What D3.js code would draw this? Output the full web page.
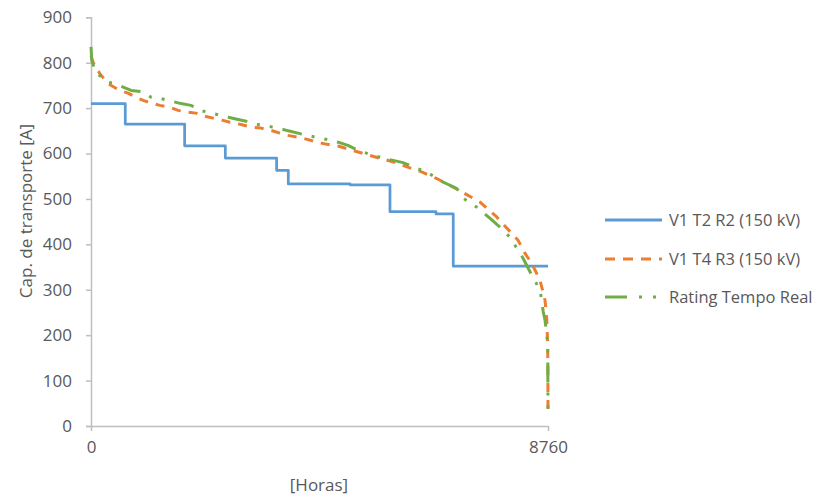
<!DOCTYPE html>
<html>
<head>
<meta charset="utf-8">
<script src="https://cdn.jsdelivr.net/npm/d3@7"></script>
<style>
  html, body { margin: 0; padding: 0; background: #fff; }
  svg text { font-family: "Open Sans", "Liberation Sans", sans-serif; fill: #595959; }
</style>
</head>
<body>
<svg id="chart" width="820" height="497"></svg>
<script>
// ---- data ----
const seriesNames = ["V1 T2 R2 (150 kV)", "V1 T4 R3 (150 kV)", "Rating Tempo Real"];

const blueHours  = [0, 657, 1795, 2575, 3558, 3782, 4965, 5731, 6613, 6944, 8760];
const blueValues = [710, 665, 617, 590, 563, 533, 531, 472, 467, 352, 352];

const orangeHours  = [0, 40, 170, 325, 550, 710, 860, 1000, 1190, 1320, 1510, 1670, 1860, 2010, 2185, 2340, 2530, 2660, 2875, 3070, 3260, 3450, 3620, 3775, 4050, 4400, 4750, 5400, 5750, 6350, 6627, 6940, 7227, 7457, 7745, 8186, 8320, 8448, 8607, 8703, 8736, 8752, 8758, 8760];
const orangeValues = [815, 801, 776, 754, 739, 733, 724, 717, 710, 706, 702, 695, 691, 689, 682, 678, 673, 669, 664, 658, 656, 651, 645, 640, 634, 623, 616, 594, 583, 559, 545, 526, 508, 493, 464, 409, 380, 358, 321, 277, 235, 185, 130, 28];

const greenHours  = [0, 15, 90, 325, 460, 770, 1000, 1150, 1340, 1725, 1917, 2090, 2240, 2630, 2820, 3050, 3200, 3585, 3780, 4140, 4520, 4735, 4925, 5100, 5400, 5600, 5980, 6250, 6440, 6750, 7015, 7130, 7420, 7650, 7800, 8030, 8186, 8280, 8450, 8610, 8640, 8670, 8703, 8755, 8760];
const greenValues = [835, 805, 779, 757, 754, 739, 736, 724, 721, 710, 706, 695, 691, 680, 675, 669, 664, 656, 650, 640, 631, 625, 618, 608, 596, 590, 580, 567, 559, 537, 523, 502, 480, 457, 442, 416, 387, 370, 332, 299, 273, 251, 233, 182, 20];

const yTicks = [0, 100, 200, 300, 400, 500, 600, 700, 800, 900];
const xTicks = [0, 8760];
const xTitle = "[Horas]";
const yTitle = "Cap. de transporte [A]";

// ---- layout ----
const svg = d3.select("#chart");
const x = d3.scaleLinear().domain([0, 8760]).range([91, 548]);
const y = d3.scaleLinear().domain([0, 900]).range([426, 17.3]);
const axisColor = "#bfbfbf";
const colors = ["#5b9bd5", "#ed7d31", "#70ad47"];
const dashes = [null, "9,8", "20,10,3,10,3,10"];

// y axis
const yAxis = svg.append("g").attr("transform", "translate(91,0)")
  .call(d3.axisLeft(y).tickValues(yTicks).tickSize(5).tickPadding(14).tickFormat(d3.format("d")));
yAxis.select(".domain").attr("stroke", axisColor).attr("stroke-width", 1.5);
yAxis.selectAll(".tick line").attr("stroke", axisColor).attr("stroke-width", 1.5);
yAxis.selectAll(".tick text").style("font-size", "17px").attr("fill", "#595959");

// x axis
const xAxis = svg.append("g").attr("transform", "translate(0,426)")
  .call(d3.axisBottom(x).tickValues(xTicks).tickSize(5).tickSizeOuter(0).tickPadding(10).tickFormat(d3.format("d")));
xAxis.select(".domain").attr("stroke", axisColor).attr("stroke-width", 1.5);
xAxis.selectAll(".tick line").attr("stroke", axisColor).attr("stroke-width", 1.5);
xAxis.selectAll(".tick text").style("font-size", "17px").attr("fill", "#595959");

// titles
svg.append("text").attr("x", 319).attr("y", 491).attr("text-anchor", "middle")
  .style("font-size", "17px").text(xTitle);
svg.append("text").attr("transform", "translate(32,211) rotate(-90)").attr("text-anchor", "middle")
  .style("font-size", "17px").text(yTitle);

// series
const seriesData = [
  { hours: blueHours, values: blueValues, curve: d3.curveStepAfter },
  { hours: orangeHours, values: orangeValues, curve: d3.curveLinear },
  { hours: greenHours, values: greenValues, curve: d3.curveLinear }
];

seriesData.forEach((s, i) => {
  const pts = s.hours.map((h, j) => [h, s.values[j]]);
  const line = d3.line().x(d => x(d[0])).y(d => y(d[1])).curve(s.curve);
  const p = svg.append("path").datum(pts)
    .attr("d", line)
    .attr("fill", "none")
    .attr("stroke", colors[i])
    .attr("stroke-width", i === 0 ? 2.75 : 3)
    .attr("stroke-linejoin", "round");
  if (dashes[i]) p.attr("stroke-dasharray", dashes[i]);
});

// legend
const legendY = [220, 259, 297];
const lg = svg.append("g");
seriesNames.forEach((name, i) => {
  const l = lg.append("line")
    .attr("x1", 605).attr("x2", 662)
    .attr("y1", legendY[i]).attr("y2", legendY[i])
    .attr("stroke", colors[i]).attr("stroke-width", 3);
  if (dashes[i]) l.attr("stroke-dasharray", i === 2 ? "22,12,3,11,3,11" : "10,8");
  lg.append("text").attr("x", 669).attr("y", legendY[i]).attr("dy", "0.35em")
    .style("font-size", "16.5px").text(name);
});
</script>
</body>
</html>
